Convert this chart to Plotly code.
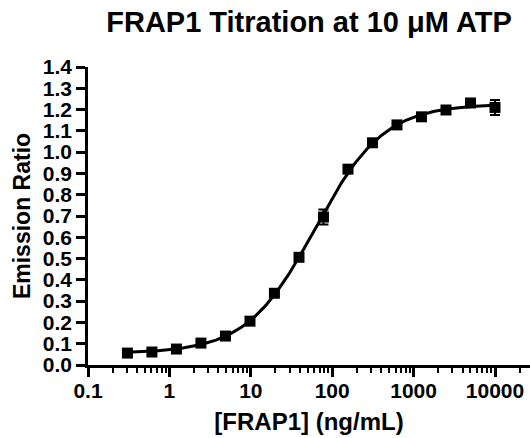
import numpy as np
import plotly.graph_objects as go

# Data (2-fold serial dilution)
conc = [0.305, 0.61, 1.22, 2.44, 4.88, 9.77, 19.5, 39.1, 78.1, 156.3, 312.5, 625, 1250, 2500, 5000, 10000]
ratio = [0.056, 0.061, 0.075, 0.103, 0.136, 0.206, 0.337, 0.506, 0.695, 0.920, 1.044, 1.128, 1.166, 1.198, 1.231, 1.210]
err = [0.004, 0.004, 0.004, 0.004, 0.005, 0.006, 0.008, 0.010, 0.035, 0.012, 0.010, 0.010, 0.008, 0.010, 0.010, 0.035]

x_tickvals = [0.1, 1, 10, 100, 1000, 10000]
x_ticktext = ["0.1", "1", "10", "100", "1000", "10000"]
y_tickvals = [round(0.1 * i, 1) for i in range(15)]

title_text = "FRAP1 Titration at 10 \u03bcM ATP"
x_title = "[FRAP1] (ng/mL)"
y_title = "Emission Ratio"

# Four-parameter logistic fit of the data (grid search + linear least squares)
lx = np.log10(np.array(conc))
yv = np.array(ratio)
le = np.linspace(1.0, 2.6, 321)
hh = np.linspace(0.5, 1.8, 261)
LE, HH = np.meshgrid(le, hh, indexing="ij")
F = 1.0 / (1.0 + 10 ** ((LE[..., None] - lx[None, None, :]) * HH[..., None]))
fm = F.mean(axis=-1, keepdims=True)
ym = yv.mean()
slope = ((F - fm) * (yv - ym)).sum(-1) / ((F - fm) ** 2).sum(-1)
inter = ym - slope * fm[..., 0]
pred = inter[..., None] + slope[..., None] * F
sse = ((pred - yv) ** 2).sum(-1)
i, j = np.unravel_index(np.argmin(sse), sse.shape)
best_le, best_h, bottom, span = le[i], hh[j], inter[i, j], slope[i, j]
cx = np.linspace(lx.min(), lx.max(), 300)
cy = bottom + span / (1.0 + 10 ** ((best_le - cx) * best_h))

minor_vals = [m * 10.0 ** d for d in range(-1, 5) for m in range(2, 10)]

FONT = "Liberation Sans, Arial, sans-serif"

fig = go.Figure()
fig.add_trace(go.Scatter(
    x=10 ** cx, y=cy, mode="lines",
    line=dict(color="black", width=3), hoverinfo="skip", showlegend=False,
))
fig.add_trace(go.Scatter(
    x=conc, y=ratio, mode="markers",
    marker=dict(symbol="square", size=11, color="black"),
    error_y=dict(type="data", array=err, color="black", thickness=2, width=5),
    showlegend=False,
))

fig.update_layout(
    width=530, height=438,
    margin=dict(l=88, r=0, t=67, b=73),
    paper_bgcolor="white", plot_bgcolor="white",
    font=dict(family=FONT, color="black"),
    title=dict(text=title_text, x=0.5, xref="paper", xanchor="center",
               y=1 - 22 / 438, yref="container", yanchor="middle",
               font=dict(size=29, weight="bold", family=FONT, color="black"),
               automargin=False),
)
fig.update_xaxes(
    type="log", range=[-1, 4.43], automargin=False,
    showline=True, linecolor="black", linewidth=2.5,
    showgrid=False, zeroline=False,
    ticks="outside", ticklen=9, tickwidth=2.5, tickcolor="black",
    tickvals=x_tickvals, ticktext=x_ticktext, ticklabelstandoff=-4,
    tickfont=dict(size=21, weight="bold", family=FONT),
    minor=dict(tickvals=minor_vals, ticks="outside", ticklen=5, tickwidth=2, tickcolor="black", showgrid=False),
    title=dict(text=x_title, font=dict(size=24, weight="bold", family=FONT), standoff=13),
)
fig.update_yaxes(
    range=[0, 1.4], automargin=False,
    showline=True, linecolor="black", linewidth=2.5,
    showgrid=False, zeroline=False,
    ticks="outside", ticklen=9, tickwidth=2.5, tickcolor="black",
    tickvals=y_tickvals, tickformat=".1f",
    tickfont=dict(size=21, weight="bold", family=FONT),
    title=dict(text=y_title, font=dict(size=23, weight="bold", family=FONT), standoff=6),
)

fig.write_html("out.html", config={"displayModeBar": False},
               post_script="document.body.style.margin='0';document.body.style.padding='0';")
